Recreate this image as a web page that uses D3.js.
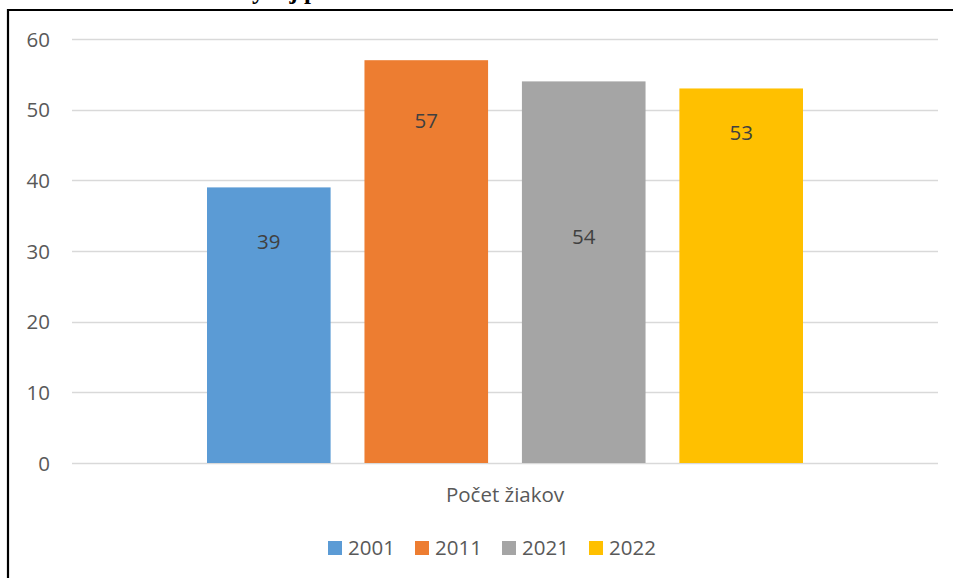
<!DOCTYPE html>
<html>
<head>
<meta charset="utf-8">
<script src="https://cdn.jsdelivr.net/npm/d3@7"></script>
<style>
    body { margin: 0; background: #fff; }
    svg { display: block; }
</style>
</head>
<body>
<div id="chart"></div>
<script>
// údaje grafu
var categories = ['Počet žiakov'];
var seriesNames = ['2001', '2011', '2021', '2022'];
var seriesValues = [39, 57, 54, 53];
// kde stoja popisky hodnôt (v jednotkách osi, ako v pôvodnom grafe)
var labelAt = [31.3, 48.4, 32, 46.7];
var yTicks = [0, 10, 20, 30, 40, 50, 60];
var colors = ['#5b9bd5', '#ed7d31', '#a5a5a5', '#ffc000'];

var width = 953, height = 578;
var font = '"Open Sans", "Noto Sans", sans-serif';
var fontSize = '20.5px';
var textColor = '#595959';

var svg = d3.select('#chart').append('svg')
    .attr('width', width)
    .attr('height', height);

// odrezaný nadpis nad rámom (vidno len dolnú časť písmen)
svg.append('text')
    .attr('x', 158)
    .attr('y', -1)
    .attr('font-family', '"Liberation Serif", serif')
    .attr('font-weight', 'bold')
    .attr('font-size', '25px')
    .attr('fill', '#000')
    .text('Graf 1 Vývoj počtu žiakov');

// rám
svg.append('path')
    .attr('d', 'M' + width + ',10 H8 V' + height)
    .attr('fill', 'none')
    .attr('stroke', '#000')
    .attr('stroke-width', 2.2);

var plot = {left: 72, right: 938, top: 39, bottom: 463};

var y = d3.scaleLinear()
    .domain([0, 60])
    .range([plot.bottom, plot.top]);

var x0 = d3.scaleBand()
    .domain(categories)
    .range([plot.left, plot.right]);

var x1 = d3.scaleBand()
    .domain(seriesNames)
    .range([207, 803])
    .paddingInner(0.215);

// mriežka
svg.append('g')
    .selectAll('line')
    .data(yTicks)
    .enter().append('line')
    .attr('x1', plot.left)
    .attr('x2', plot.right)
    .attr('y1', function (d) { return Math.round(y(d)) + 0.5; })
    .attr('y2', function (d) { return Math.round(y(d)) + 0.5; })
    .attr('stroke', '#d9d9d9')
    .attr('stroke-width', 1.5);

// os y
var yAxis = svg.append('g')
    .attr('transform', 'translate(50,0)')
    .call(d3.axisLeft(y).tickValues(yTicks).tickSize(0).tickPadding(0));
yAxis.select('.domain').remove();
yAxis.selectAll('text')
    .attr('font-family', font)
    .attr('font-size', fontSize)
    .attr('fill', textColor)
    .attr('dy', '0.35em');

// stĺpce
var bars = svg.append('g');
bars.selectAll('rect')
    .data(seriesValues)
    .enter().append('rect')
    .attr('x', function (d, i) { return x1(seriesNames[i]); })
    .attr('y', function (d) { return y(d); })
    .attr('width', x1.bandwidth())
    .attr('height', function (d) { return y(0) - y(d); })
    .attr('fill', function (d, i) { return colors[i]; });

// popisky hodnôt
bars.selectAll('text')
    .data(seriesValues)
    .enter().append('text')
    .attr('x', function (d, i) { return x1(seriesNames[i]) + x1.bandwidth() / 2; })
    .attr('y', function (d, i) { return y(labelAt[i]); })
    .attr('dy', '0.35em')
    .attr('text-anchor', 'middle')
    .attr('font-family', font)
    .attr('font-size', fontSize)
    .attr('fill', '#404040')
    .text(function (d) { return d; });

// os x - kategória
var xAxis = svg.append('g')
    .attr('transform', 'translate(0,' + plot.bottom + ')')
    .call(d3.axisBottom(x0).tickSize(0).tickPadding(0));
xAxis.select('.domain').remove();
xAxis.selectAll('text')
    .attr('y', 32)
    .attr('dy', '0.35em')
    .attr('font-family', font)
    .attr('font-size', fontSize)
    .attr('fill', textColor);

// legenda
var legend = svg.append('g')
    .attr('transform', 'translate(328,541)');
var items = legend.selectAll('g')
    .data(seriesNames)
    .enter().append('g')
    .attr('transform', function (d, i) { return 'translate(' + (i * 87) + ',0)'; });
items.append('rect')
    .attr('width', 14)
    .attr('height', 14)
    .attr('fill', function (d, i) { return colors[i]; });
items.append('text')
    .attr('x', 20)
    .attr('y', 7)
    .attr('dy', '0.35em')
    .attr('font-family', font)
    .attr('font-size', fontSize)
    .attr('fill', textColor)
    .text(function (d) { return d; });
</script>
</body>
</html>
